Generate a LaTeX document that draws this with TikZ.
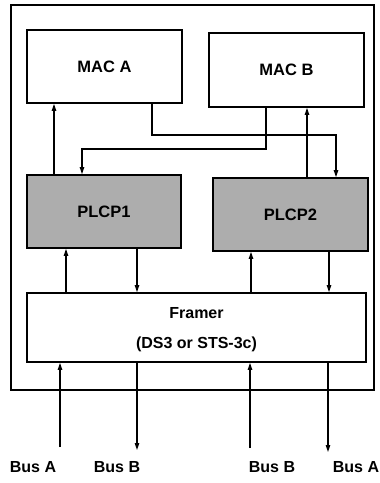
\documentclass[tikz,border=0pt]{standalone}
\usepackage{fontspec}
\setmainfont{Liberation Sans}
\usetikzlibrary{arrows.meta}
\begin{document}
\begin{tikzpicture}[x=1pt,y=-1pt,
  box/.style={draw=black,line width=1.8pt,inner sep=0pt,font=\bfseries\fontsize{16.5}{19}\selectfont},
  shade/.style={box,fill=black!32},
  conn/.style={line width=1.1pt,-{Triangle[width=4.5pt,length=7pt]}},
  lbl/.style={font=\bfseries\fontsize{16}{19}\selectfont,inner sep=0pt}]
\useasboundingbox (0,0) rectangle (380,483);
\draw[line width=1.8pt] (11,5) rectangle (374,390);
\node[box,minimum width=155pt,minimum height=73pt] (maca) at (104.5,66.5) {MAC A};
\node[box,minimum width=155pt,minimum height=74pt] (macb) at (286.5,70) {MAC B};
\node[shade,minimum width=154pt,minimum height=73pt] (p1) at (104,211.5) {PLCP1};
\node[shade,minimum width=155pt,minimum height=73pt] (p2) at (290.5,214.5) {PLCP2};
\node[box,minimum width=339pt,minimum height=69pt,align=center] (fr) at (196.5,327.5) {};
\node[lbl] (frt) at (196.5,313) {Framer};
\node[lbl] (frs) at (196.5,344) {(DS3 or STS-3c)};
% MAC <-> PLCP
\draw[conn] (p1.north -| 54,0) -- (maca.south -| 54,0);
\draw[conn] (p2.north -| 307,0) -- (macb.south -| 307,0);
\draw[conn] (maca.south -| 152,0) |- (336,135) -- (p2.north -| 336,0);
\draw[conn] (macb.south -| 266,0) |- (82,149) -- (p1.north -| 82,0);
% PLCP <-> Framer
\draw[conn] (fr.north -| 66,0) -- (p1.south -| 66,0);
\draw[conn] (p1.south -| 137,0) -- (fr.north -| 137,0);
\draw[conn] (fr.north -| 251,0) -- (p2.south -| 251,0);
\draw[conn] (p2.south -| 329,0) -- (fr.north -| 329,0);
% buses
\coordinate (b1) at (60,447);
\coordinate (b2) at (137,450);
\coordinate (b3) at (250,448);
\coordinate (b4) at (328,452);
\draw[conn] (b1) -- (fr.south -| b1);
\draw[conn] (fr.south -| b2) -- (b2);
\draw[conn] (b3) -- (fr.south -| b3);
\draw[conn] (fr.south -| b4) -- (b4);
\node[lbl] (la) at (33,467) {Bus A};
\node[lbl] (lb) at (117,467) {Bus B};
\node[lbl] (lc) at (272,467) {Bus B};
\node[lbl] (ld) at (356,467) {Bus A};
\end{tikzpicture}
\end{document}
